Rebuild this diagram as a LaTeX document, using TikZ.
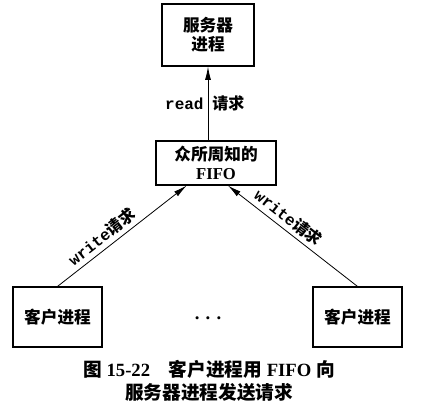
\documentclass[tikz,border=0pt]{standalone}
\usepackage{fontspec}
\setmainfont{Liberation Serif}
\setmonofont{Liberation Mono}
\newfontfamily\cjk{Noto Sans CJK SC}
\usetikzlibrary{arrows.meta,positioning,calc}

\begin{document}
\begin{tikzpicture}[x=0.75pt,y=0.75pt,>={Latex[length=10pt,width=4.5pt]}]
\tikzset{
  box/.style={draw, line width=0.9pt, align=center, inner sep=0pt, font=\cjk\bfseries\fontsize{12.5}{14}\selectfont},
  req/.style={font=\fontsize{12}{14}\selectfont\bfseries, inner sep=3pt},
  link/.style={->, line width=0.6pt}
}
\useasboundingbox (0,0) rectangle (421,412);
\node[box, minimum width=69pt, minimum height=46.5pt] (srv) at (208,377) {服务器\\进程};
\node[box, minimum width=90pt, minimum height=33pt] (fifo) at (216,249) {众所周知的\\{\rmfamily FIFO}};
\node[box, minimum width=66.75pt, minimum height=45pt] (cl) at (57.5,95) {客户进程};
\node[box, minimum width=66.75pt, minimum height=45pt] (cr) at (357.5,95) {客户进程};
\node[font=\bfseries\fontsize{14}{14}\selectfont] (dots) at (208,94) {.\,\,.\,\,.};
% requests
\draw[link] (fifo.north -| srv) -- node[req, left] {\ttfamily read} node[req, right] {\cjk 请求} (srv.south);
\draw[link] (cl.north) -- node[req, pos=.4, sloped, above] {\ttfamily write\cjk 请求} ([xshift=-22pt]fifo.south);
\draw[link] (cr.north) -- node[req, pos=.59, sloped, above] {\ttfamily write\cjk 请求} ([xshift=9pt]fifo.south);
% caption
\node[font=\bfseries\fontsize{14}{17}\selectfont, align=center] (cap) at (209,31)
  {{\cjk 图} 15-22\hspace{1em}{\cjk 客户进程用} FIFO {\cjk 向}\\{\cjk 服务器进程发送请求}};
\end{tikzpicture}
\end{document}
